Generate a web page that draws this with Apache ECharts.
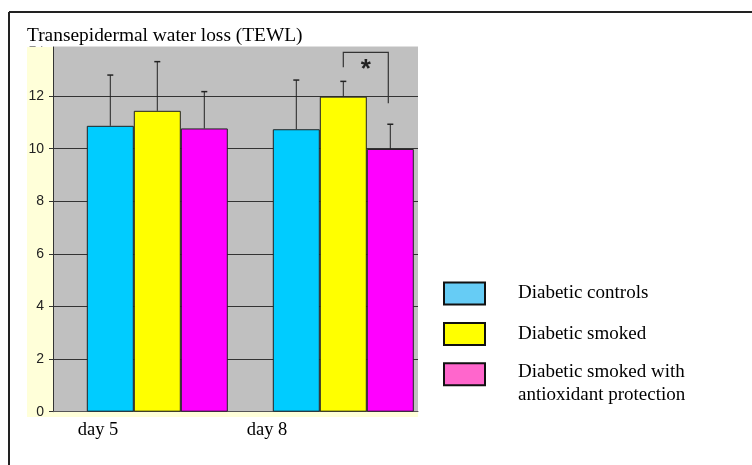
<!DOCTYPE html>
<html>
<head>
<meta charset="utf-8">
<script src="https://cdn.jsdelivr.net/npm/echarts@6/dist/echarts.min.js"></script>
<style>
  html, body { margin: 0; padding: 0; background: #fff; }
  #chart { width: 752px; height: 465px; }
</style>
</head>
<body>
<div id="chart"></div>
<script>
// Transepidermal water loss per group, with upper SD whiskers
const days = ['day 5', 'day 8'];
const groupNames = ['Diabetic controls', 'Diabetic smoked', 'Diabetic smoked with antioxidant protection'];
const controls = [10.87, 10.74];
const controlsSD = [1.93, 1.87];
const smoked = [11.44, 11.98];
const smokedSD = [1.87, 0.58];
const antioxidant = [10.77, 9.99];
const antioxidantSD = [1.40, 0.94];

// value axis
const yMin = 0;
const yMax = 14;
const yStep = 2;

// significance bracket: [day index, from group, to group, top, left end, right end]
const sigBracket = [[1, 1, 2, 13.66, 13.10, 11.73]];
const sigMark = '*';

const barColors = ['#00CCFF', '#FFFF00', '#FF00FF'];
const legendColors = ['#66CCF5', '#FFFF00', '#FF66CC'];
const BAR_W = 47;
const SERIF = "'Liberation Serif', 'Times New Roman', serif";

const means = [controls, smoked, antioxidant];
const sds = [controlsSD, smokedSD, antioxidantSD];

const whiskerData = [];
means.forEach((arr, k) => arr.forEach((m, d) => whiskerData.push([d, k, m, sds[k][d]])));

const chart = echarts.init(document.getElementById('chart'), null, { renderer: 'canvas' });

const gridTop = 43.5;
const gridBottom = 465 - 411.7;

const option = {
  animation: false,
  backgroundColor: '#fff',
  title: {
    text: 'Transepidermal water loss (TEWL)',
    left: 27, top: 26, padding: 0, z: 10,
    textStyle: { fontFamily: SERIF, fontSize: 19.4, fontWeight: 'normal', color: '#000' }
  },
  legend: {
    orient: 'vertical',
    left: 443, top: 261,
    padding: 0,
    itemWidth: 41, itemHeight: 22,
    itemGap: -24.5,
    selectedMode: false,
    icon: 'rect',
    itemStyle: { borderColor: '#111', borderWidth: 2 },
    textStyle: {
      fontFamily: SERIF, fontSize: 19, color: '#000', lineHeight: 23, padding: [21, 0, 21, 28],
      rich: { gap: { fontSize: 10, lineHeight: 18 } }
    },
    // the long label wraps onto two lines, its first line level with the swatch
    formatter: name => name === groupNames[2] ? '{gap| }\nDiabetic smoked with\nantioxidant protection' : name,
    data: groupNames.map((n, k) => ({
      name: n,
      itemStyle: { color: legendColors[k] },
      textStyle: k === 2 ? { padding: [0, 0, 0, 28], lineHeight: 23.3 } : undefined
    }))
  },
  grid: [
    { left: 53, top: gridTop, width: 365, bottom: gridBottom, show: true, backgroundColor: '#C0C0C0', borderWidth: 0 },
    { left: 64.3, top: gridTop, width: 372, bottom: gridBottom },
    { left: 13.5, top: gridTop, width: 338, bottom: gridBottom }
  ],
  xAxis: [
    { gridIndex: 0, type: 'category', data: days,
      axisLine: { show: true, lineStyle: { color: '#555', width: 1 } },
      axisTick: { show: false }, axisLabel: { show: false }, splitLine: { show: false } },
    { gridIndex: 1, type: 'category', data: days, show: false },
    { gridIndex: 2, type: 'category', data: days,
      axisLine: { show: false }, axisTick: { show: false },
      axisLabel: { fontFamily: SERIF, fontSize: 18.5, color: '#000', margin: 9 } }
  ],
  yAxis: [
    { gridIndex: 0, type: 'value', min: yMin, max: yMax, interval: yStep,
      axisLine: { show: true, lineStyle: { color: '#333', width: 1 } },
      axisTick: { show: true, length: 4, lineStyle: { color: '#333' } },
      axisLabel: { fontFamily: "'Liberation Sans Narrow', 'Arial Narrow', 'Liberation Sans', sans-serif", fontSize: 14, color: '#222', margin: 9 },
      splitLine: { show: true, lineStyle: { color: '#333', width: 1 } } },
    { gridIndex: 1, type: 'value', min: yMin, max: yMax, interval: yStep, show: false, splitLine: { show: false } },
    { gridIndex: 2, type: 'value', min: yMin, max: yMax, interval: yStep, show: false, splitLine: { show: false } }
  ],
  series: [
    ...groupNames.map((n, k) => ({
      name: n, type: 'bar', xAxisIndex: 1, yAxisIndex: 1,
      data: means[k], barWidth: BAR_W, barGap: '0%',
      itemStyle: { color: barColors[k], borderColor: '#222', borderWidth: 1 },
      emphasis: { disabled: true }
    })),
    {
      type: 'custom', xAxisIndex: 1, yAxisIndex: 1, z: 3,
      data: whiskerData,
      encode: { x: 0, y: 2 },
      renderItem: (params, api) => {
        const d = api.value(0), k = api.value(1), m = api.value(2), s = api.value(3);
        const base = api.coord([d, m]);
        const x = base[0] + (k - 1) * BAR_W;
        const top = api.coord([d, m + s])[1];
        return { type: 'group', children: [
          { type: 'line', shape: { x1: x, y1: base[1], x2: x, y2: top }, style: { stroke: '#222', lineWidth: 1 } },
          { type: 'line', shape: { x1: x - 3, y1: top, x2: x + 3, y2: top }, style: { stroke: '#222', lineWidth: 1.5 } }
        ] };
      }
    },
    {
      type: 'custom', xAxisIndex: 1, yAxisIndex: 1, z: 3,
      data: sigBracket,
      encode: { x: 0, y: 3 },
      renderItem: (params, api) => {
        const d = api.value(0);
        const x1 = api.coord([d, 0])[0] + (api.value(1) - 1) * BAR_W;
        const x2 = api.coord([d, 0])[0] + (api.value(2) - 1) * BAR_W - 2;
        const yTop = api.coord([d, api.value(3)])[1];
        const yL = api.coord([d, api.value(4)])[1];
        const yR = api.coord([d, api.value(5)])[1];
        return { type: 'group', children: [
          { type: 'polyline', shape: { points: [[x1, yL], [x1, yTop], [x2, yTop], [x2, yR]] },
            style: { stroke: '#333', lineWidth: 1.2, fill: null } },
          { type: 'text', x: (x1 + x2) / 2, y: yTop + 4,
            style: { text: sigMark, font: "bold 26px 'Liberation Sans', Arial, sans-serif", fill: '#222', align: 'center', verticalAlign: 'top' } }
        ] };
      }
    }
  ],
  graphic: [
    { type: 'rect', z: -1, shape: { x: 27, y: 47, width: 391, height: 370 }, style: { fill: '#FFFFD9' } },
    { type: 'rect', z: 5, shape: { x: 15, y: 16, width: 420, height: 30.5 }, style: { fill: '#fff' } },
    { type: 'line', z: 8, shape: { x1: 9, y1: 12, x2: 752, y2: 12 }, style: { stroke: '#222', lineWidth: 2 } },
    { type: 'line', z: 8, shape: { x1: 9, y1: 12, x2: 9, y2: 465 }, style: { stroke: '#222', lineWidth: 2 } }
  ]
};

chart.setOption(option);
</script>
</body>
</html>
